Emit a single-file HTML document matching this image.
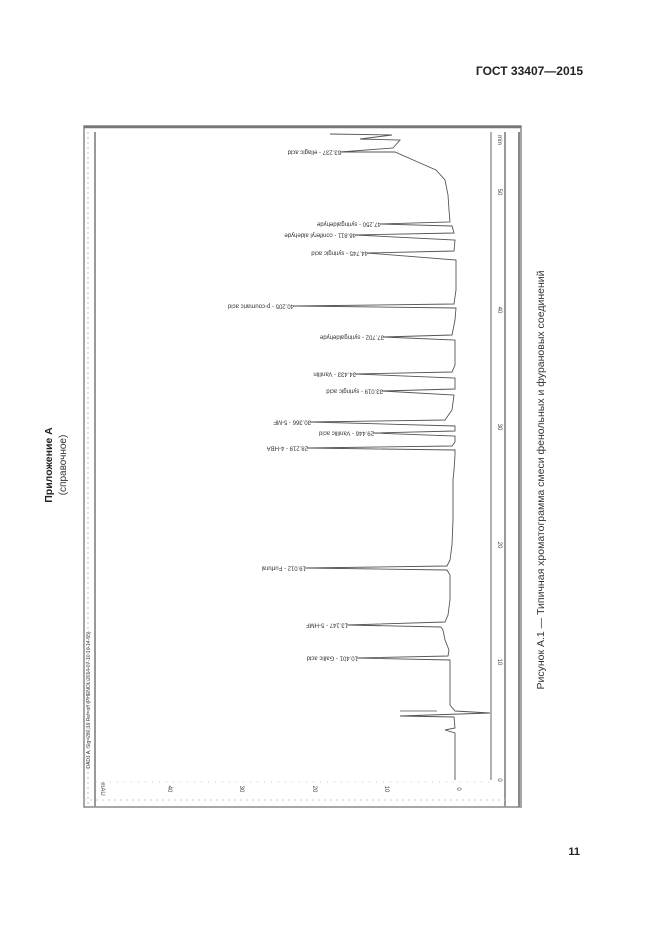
<!DOCTYPE html>
<html><head><meta charset="utf-8"><style>
html,body{margin:0;padding:0;background:#fff;}
svg{display:block;}
text{font-family:"Liberation Sans",sans-serif;}
</style></head><body>
<svg width="661" height="935" viewBox="0 0 661 935" xmlns="http://www.w3.org/2000/svg">
<rect width="661" height="935" fill="#fff"/>
<text x="583" y="75" font-size="12" font-weight="bold" text-anchor="end" fill="#222">ГОСТ 33407—2015</text>
<text transform="translate(52,465) rotate(-90)" font-size="10.5" font-weight="bold" text-anchor="middle" fill="#222">Приложение А</text>
<text transform="translate(66,465) rotate(-90)" font-size="10" text-anchor="middle" fill="#333">(справочное)</text>
<text transform="translate(544,480) rotate(-90)" font-size="10.5" text-anchor="middle" fill="#333">Рисунок А.1 — Типичная хроматограмма смеси фенольных и фурановых соединений</text>
<text x="580" y="855" font-size="11" font-weight="bold" text-anchor="end" fill="#222">11</text>

<!-- frame -->
<rect x="84" y="126" width="437" height="681" fill="none" stroke="#888" stroke-width="1.5"/>
<line x1="84" y1="127" x2="521" y2="127" stroke="#777" stroke-width="2.5"/>
<line x1="95" y1="132" x2="95" y2="807" stroke="#999" stroke-width="2"/>
<line x1="88" y1="132" x2="88" y2="807" stroke="#bbb" stroke-width="1" stroke-dasharray="2,3"/>
<line x1="491" y1="132" x2="491" y2="780" stroke="#999" stroke-width="1.5"/>
<line x1="505" y1="132" x2="505" y2="807" stroke="#999" stroke-width="2"/>
<line x1="519" y1="132" x2="519" y2="807" stroke="#888" stroke-width="2"/>
<line x1="84" y1="800" x2="505" y2="800" stroke="#ccc" stroke-width="1" stroke-dasharray="2,4"/>
<line x1="96" y1="782" x2="491" y2="782" stroke="#ccc" stroke-width="1" stroke-dasharray="1,6"/>
<!-- right axis labels -->
<g font-size="6" fill="#444">
<text transform="translate(498,780) rotate(90)" text-anchor="middle">0</text>
<text transform="translate(498,662) rotate(90)" text-anchor="middle">10</text>
<text transform="translate(498,545) rotate(90)" text-anchor="middle">20</text>
<text transform="translate(498,427) rotate(90)" text-anchor="middle">30</text>
<text transform="translate(498,310) rotate(90)" text-anchor="middle">40</text>
<text transform="translate(498,192) rotate(90)" text-anchor="middle">50</text>
<text transform="translate(498,140) rotate(90)" text-anchor="middle">min</text>
</g>
<!-- bottom labels -->
<g font-size="6" fill="#444">
<text transform="translate(457,789) rotate(90)" text-anchor="middle">0</text>
<text transform="translate(385,789) rotate(90)" text-anchor="middle">10</text>
<text transform="translate(313,789) rotate(90)" text-anchor="middle">20</text>
<text transform="translate(240,789) rotate(90)" text-anchor="middle">30</text>
<text transform="translate(168,789) rotate(90)" text-anchor="middle">40</text>
<text transform="translate(101,789) rotate(90)" text-anchor="middle">mAU</text>
<text transform="translate(90,700) rotate(-90)" text-anchor="middle" font-size="5">DAD1 A, Sig=280,16 Ref=off (PHENOL\2014-07-10 10-14-55)</text>
</g>
<!-- trace -->
<polyline fill="none" stroke="#555" stroke-width="0.9" points="
455,780 455,733 445,730 455,728 454,717 400,716 490,713 455,711 450,705 450,665 450,660 357,658 448,656 449,650 445,640 443,630 441,627 347,625 445,622 448,615 450,600 450,575 447,570 305,568 447,566 450,560 452,545 453,520 453,480 454,470 455,455 455,450 307,448 452,446 455,442 455,436 373,433 455,431 455,426 310,422 445,420 452,410 454,395 382,391 455,389 455,378 355,374 452,372 455,365 455,340 383,337 452,335 455,320 456,308 293,306 454,304 456,290 456,260 367,253 454,251 455,240 355,235 454,233 452,226 380,224 450,222 449,210 448,195 445,180 436,170 420,163 395,152 340,152 393,148 400,140 360,139 392,135 330,134"/>
<line x1="400" y1="711" x2="437" y2="711" stroke="#555" stroke-width="0.8"/>
<!-- peak labels (upside down) -->
<g font-size="6" fill="#333">
<text transform="translate(341,152) rotate(180)" dominant-baseline="middle">53.237 - ellagic acid</text>
<text transform="translate(381,224) rotate(180)" dominant-baseline="middle">47.250 - syringaldehyde</text>
<text transform="translate(356,235) rotate(180)" dominant-baseline="middle">46.811 - coniferyl aldehyde</text>
<text transform="translate(368,253) rotate(180)" dominant-baseline="middle">44.745 - syringic acid</text>
<text transform="translate(294,306) rotate(180)" dominant-baseline="middle">40.205 - p-coumaric acid</text>
<text transform="translate(384,337) rotate(180)" dominant-baseline="middle">37.702 - syringaldehyde</text>
<text transform="translate(356,374) rotate(180)" dominant-baseline="middle">34.433 - Vanillin</text>
<text transform="translate(383,391) rotate(180)" dominant-baseline="middle">33.019 - syringic acid</text>
<text transform="translate(311,422) rotate(180)" dominant-baseline="middle">30.366 - 5-MF</text>
<text transform="translate(374,433) rotate(180)" dominant-baseline="middle">29.446 - Vanillic acid</text>
<text transform="translate(308,448) rotate(180)" dominant-baseline="middle">28.219 - 4-HBA</text>
<text transform="translate(306,568) rotate(180)" dominant-baseline="middle">19.012 - Furfural</text>
<text transform="translate(348,625) rotate(180)" dominant-baseline="middle">13.147 - 5-HMF</text>
<text transform="translate(358,658) rotate(180)" dominant-baseline="middle">10.401 - Gallic acid</text>
</g>
</svg>
</body></html>
